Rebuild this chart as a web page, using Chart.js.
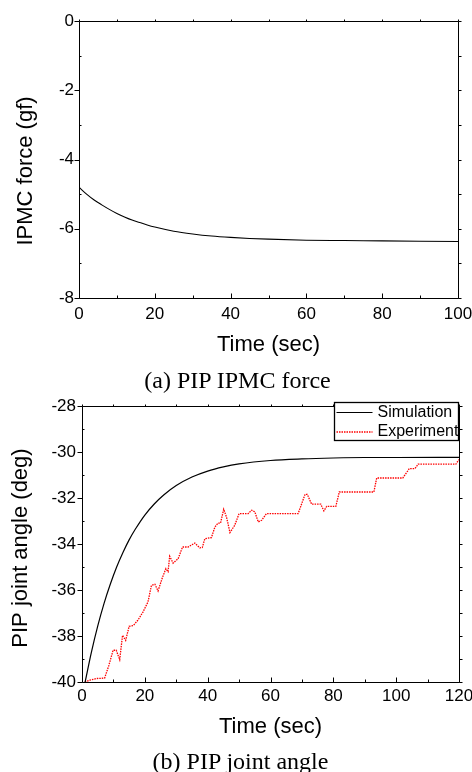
<!DOCTYPE html>
<html><head><meta charset="utf-8">
<script src="https://cdn.jsdelivr.net/npm/chart.js@4.4.1/dist/chart.umd.min.js"></script>
<style>
html,body{margin:0;padding:0;background:#fff;}
#wrap{position:relative;width:472px;height:772px;overflow:hidden;background:#fff;}
canvas{position:absolute;left:0;}
#ca{top:0;width:472px;height:380px;}
#cb{top:380px;width:472px;height:392px;}
.cap{position:absolute;width:472px;text-align:center;font-family:'Liberation Serif','Times New Roman',serif;font-size:24px;line-height:24px;color:#000;white-space:nowrap;}
</style></head><body>
<div id="wrap">
<canvas id="ca" width="472" height="380"></canvas>
<canvas id="cb" width="472" height="392"></canvas>
<div class="cap" style="left:1.5px;top:368px">(a) PIP IPMC force</div>
<div class="cap" style="left:4.5px;top:749px">(b) PIP joint angle</div>
</div>
<script>
// ---- data (a) ----
const forceTime   = [0, 2, 4, 6, 8, 10, 12, 14, 16, 18, 20, 25, 30, 35, 40, 45, 50, 60, 70, 80, 90, 100];
const forceValues = [-4.80, -5.00, -5.17, -5.31, -5.44, -5.56, -5.66, -5.75, -5.82, -5.89, -5.95, -6.07, -6.15, -6.21, -6.25, -6.28, -6.30, -6.33, -6.34, -6.35, -6.36, -6.37];
const forceXTicks = [0, 20, 40, 60, 80, 100];
const forceYTicks = [0, -2, -4, -6, -8];

// ---- data (b) ----
const simTime  = [1, 3, 5, 7, 9, 11, 13, 15, 17, 20, 23, 26, 30, 35, 40, 45, 50, 60, 70, 80, 90, 100, 120];
const simAngle = [-40.00, -38.70, -37.57, -36.59, -35.75, -35.01, -34.38, -33.82, -33.35, -32.74, -32.26, -31.87, -31.46, -31.09, -30.83, -30.65, -30.52, -30.37, -30.30, -30.26, -30.24, -30.24, -30.23];
const expTime  = [0.9, 2.5, 4.5, 7.2, 8.5, 9.9, 10.9, 12.0, 12.9, 13.9, 15.0, 16.3, 17.8, 19.4, 21.0, 22.1, 23.2, 24.2, 25.6, 26.7, 27.4, 27.9, 29.0, 30.6, 32.0, 33.8, 35.9, 37.5, 38.3, 39.1, 41.2, 42.3, 43.3, 44.1, 45.1, 46.0, 47.1, 48.6, 50.0, 52.9, 54.0, 55.0, 56.1, 57.2, 58.7, 68.8, 71.0, 71.7, 73.1, 76.0, 77.0, 77.9, 80.8, 81.9, 92.9, 93.8, 102.1, 104.2, 106.0, 107.0, 119.0, 120.0];
const expAngle = [-40.00, -39.92, -39.85, -39.83, -39.30, -38.62, -38.62, -39.03, -37.97, -38.19, -37.58, -37.55, -37.31, -36.96, -36.52, -35.80, -35.75, -36.04, -35.46, -35.07, -35.20, -34.53, -34.83, -34.64, -34.13, -34.13, -33.96, -34.17, -34.15, -33.77, -33.72, -33.26, -33.09, -33.09, -32.49, -32.83, -33.50, -33.19, -32.68, -32.68, -32.53, -32.60, -33.04, -32.97, -32.68, -32.68, -31.84, -31.84, -32.27, -32.27, -32.56, -32.36, -32.36, -31.74, -31.74, -31.13, -31.13, -30.72, -30.72, -30.53, -30.53, -30.33];
const angleXTicks = [0, 20, 40, 60, 80, 100, 120];
const angleYTicks = [-28, -30, -32, -34, -36, -38, -40];
const seriesNames = ['Simulation', 'Experiment'];

Chart.defaults.font.family = "'Liberation Sans', Arial, sans-serif";
Chart.defaults.color = '#000';

const pt = v => Math.round(v) + 0.5;
const isMul = (v, s) => Math.abs(v / s - Math.round(v / s)) < 1e-6;

const frame = {
  id: 'frame',
  afterDatasetsDraw(chart, args, o) {
    const {ctx, chartArea: a, scales: {x, y}} = chart;
    ctx.save();
    ctx.strokeStyle = '#000';
    ctx.lineWidth = 1;
    const L = pt(a.left), R = pt(a.right), T = pt(a.top), B = pt(a.bottom);
    ctx.beginPath();
    ctx.rect(L, T, R - L, B - T);
    for (let v = x.min; v <= x.max + 1e-9; v += o.xMinor) {
      const px = pt(x.getPixelForValue(v));
      const len = isMul(v, o.xMajor) ? 5 : 3;
      ctx.moveTo(px, B); ctx.lineTo(px, B - len);
      ctx.moveTo(px, T); ctx.lineTo(px, T - 2);
    }
    for (let v = y.min; v <= y.max + 1e-9; v += o.yMinor) {
      const py = pt(y.getPixelForValue(v));
      if (isMul(v, o.yMajor)) { ctx.moveTo(L, py); ctx.lineTo(L - 5, py); }
      else { ctx.moveTo(L, py); ctx.lineTo(L + 2, py); }
      ctx.moveTo(R, py); ctx.lineTo(R + 3, py);
    }
    ctx.stroke();
    // y axis title
    ctx.fillStyle = '#000';
    ctx.font = "22px 'Liberation Sans', Arial, sans-serif";
    ctx.translate(o.titleX, (a.top + a.bottom) / 2 + o.titleDy);
    ctx.rotate(-Math.PI / 2);
    ctx.textAlign = 'center';
    ctx.textBaseline = 'middle';
    ctx.fillText(o.yTitle, 0, 0);
    ctx.restore();
  }
};

const boxLegend = {
  id: 'boxLegend',
  afterDatasetsDraw(chart, args, o) {
    if (!o || !o.show) return;
    const {ctx, chartArea: a} = chart;
    const w = 124, h = 38;
    const bx = Math.round(a.right - 125) + 0.5, by = Math.round(a.top - 4) + 0.5;
    ctx.save();
    ctx.fillStyle = '#fff';
    ctx.fillRect(bx, by, w, h);
    ctx.strokeStyle = '#000';
    ctx.lineWidth = 1.3;
    ctx.strokeRect(bx, by, w, h);
    ctx.font = "16px 'Liberation Sans', Arial, sans-serif";
    ctx.textBaseline = 'middle';
    ctx.textAlign = 'left';
    chart.data.datasets.forEach((ds, i) => {
      const ry = by + 10 + i * 19.5;
      ctx.beginPath();
      ctx.strokeStyle = ds.borderColor;
      ctx.lineWidth = ds.borderWidth;
      ctx.setLineDash(ds.borderDash || []);
      ctx.moveTo(bx + 2, ry); ctx.lineTo(bx + 38, ry);
      ctx.stroke();
      ctx.setLineDash([]);
      ctx.fillStyle = '#000';
      ctx.fillText(ds.label, bx + 43, ry);
    });
    ctx.restore();
  }
};

function axisX(ticksArr, min, max, height, tickPad, titlePadBottom) {
  return {
    type: 'linear', min, max,
    grid: {display: false, drawTicks: false},
    border: {display: false},
    afterBuildTicks: s => { s.ticks = ticksArr.map(v => ({value: v})); },
    afterFit: s => { s.height = height; s.paddingLeft = 0; s.paddingRight = 0; },
    ticks: {font: {size: 17}, color: '#000', padding: tickPad, maxRotation: 0, autoSkip: false, callback: v => String(v)},
    title: {display: true, text: 'Time (sec)', font: {size: 22}, color: '#000', padding: {top: 0, bottom: titlePadBottom}}
  };
}
function axisY(ticksArr, min, max, width, tickPad) {
  return {
    type: 'linear', min, max,
    grid: {display: false, drawTicks: false},
    border: {display: false},
    afterBuildTicks: s => { s.ticks = ticksArr.map(v => ({value: v})); },
    afterFit: s => { s.width = width; s.paddingTop = 0; s.paddingBottom = 0; },
    ticks: {font: {size: 17}, color: '#000', padding: tickPad, autoSkip: false, callback: v => String(v)}
  };
}

new Chart(document.getElementById('ca'), {
  type: 'line',
  data: {datasets: [{
    label: 'IPMC force',
    data: forceTime.map((t, i) => ({x: t, y: forceValues[i]})),
    borderColor: '#000', borderWidth: 1.1, pointRadius: 0, fill: false,
    cubicInterpolationMode: 'monotone'
  }]},
  options: {
    responsive: false, animation: false, devicePixelRatio: 1,
    layout: {padding: {left: 0, right: 14, top: 21, bottom: 0}},
    plugins: {
      legend: {display: false}, tooltip: {enabled: false},
      frame: {xMinor: 10, xMajor: 20, yMinor: 1, yMajor: 2, yTitle: 'IPMC force (gf)', titleX: 25.5, titleDy: 11.5}
    },
    scales: {x: axisX(forceXTicks, 0, 100, 82, 6, 22), y: axisY(forceYTicks, -8, 0, 79, 5)}
  },
  plugins: [frame]
});

new Chart(document.getElementById('cb'), {
  type: 'line',
  data: {datasets: [
    {label: seriesNames[0], data: simTime.map((t, i) => ({x: t, y: simAngle[i]})),
     borderColor: '#000', borderWidth: 1.2, pointRadius: 0, fill: false, cubicInterpolationMode: 'monotone'},
    {label: seriesNames[1], data: expTime.map((t, i) => ({x: t, y: expAngle[i]})),
     borderColor: '#ff0000', borderWidth: 1.3, borderDash: [1.5, 1], pointRadius: 0, fill: false, tension: 0}
  ]},
  options: {
    responsive: false, animation: false, devicePixelRatio: 1,
    layout: {padding: {left: 0, right: 13, top: 26, bottom: 0}},
    plugins: {
      legend: {display: false}, tooltip: {enabled: false},
      frame: {xMinor: 10, xMajor: 20, yMinor: 1, yMajor: 2, yTitle: 'PIP joint angle (deg)', titleX: 21, titleDy: 4},
      boxLegend: {show: true}
    },
    scales: {x: axisX(angleXTicks, 0, 120, 90, 4, 32), y: axisY(angleYTicks, -40, -28, 82, 6)}
  },
  plugins: [frame, boxLegend]
});
</script>
</body></html>
